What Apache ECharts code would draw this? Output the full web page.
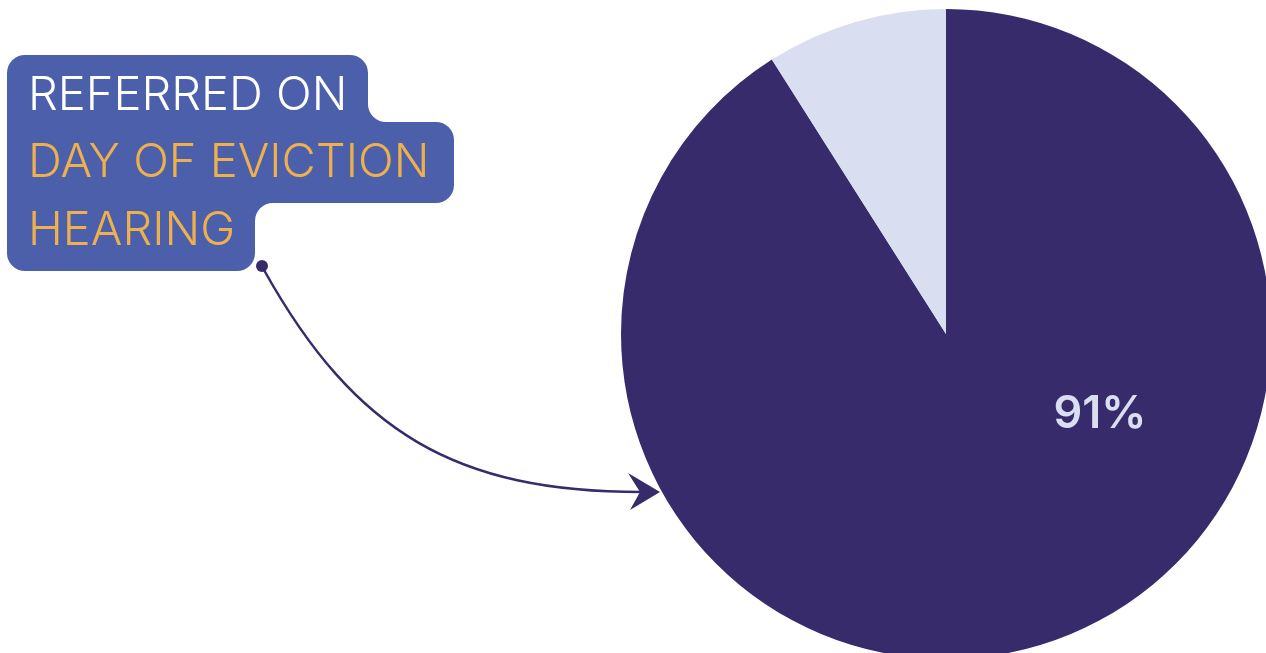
<!DOCTYPE html>
<html>
<head>
<meta charset="utf-8">
<style>
  html, body { margin: 0; padding: 0; background: #ffffff; }
  #chart { width: 1266px; height: 653px; }
</style>
<script src="https://cdn.jsdelivr.net/npm/echarts@6/dist/echarts.min.js"></script>
</head>
<body>
<div id="chart"></div>
<script>
// Share of referrals made on the day of the eviction hearing
const categories = ['Day of eviction hearing', 'Other days'];
const shares = [91, 9];
const sliceColors = ['#372B6C', '#D9DFF0'];
const titleLines = ['REFERRED ON', 'DAY OF EVICTION', 'HEARING'];

const BOX = '#4B5FAB';
const ORANGE = '#EDB04D';
const FONT = 'Inter, Lato, sans-serif';

const chart = echarts.init(document.getElementById('chart'), null, { renderer: 'canvas' });

// Rounded callout box assembled from overlapping rounded rects with concave fillets
const boxParts = [
  { type: 'rect', shape: { x: 7, y: 55, width: 361, height: 105, r: 18 }, style: { fill: BOX }, z: 1 },
  { type: 'rect', shape: { x: 7, y: 122, width: 447, height: 81, r: 18 }, style: { fill: BOX }, z: 1 },
  { type: 'rect', shape: { x: 7, y: 150, width: 248, height: 121, r: 18 }, style: { fill: BOX }, z: 1 },
  { type: 'rect', shape: { x: 368, y: 104, width: 18, height: 18 }, style: { fill: BOX }, z: 2 },
  { type: 'circle', shape: { cx: 386, cy: 104, r: 18 }, style: { fill: '#ffffff' }, z: 3 },
  { type: 'rect', shape: { x: 255, y: 203, width: 18, height: 18 }, style: { fill: BOX }, z: 2 },
  { type: 'circle', shape: { cx: 273, cy: 221, r: 18 }, style: { fill: '#ffffff' }, z: 3 }
];

const lineColors = ['#ffffff', ORANGE, ORANGE];
const lineY = [96, 163, 231];
const textParts = titleLines.map((t, i) => ({
  type: 'text',
  x: 28,
  y: lineY[i],
  z: 5,
  style: {
    text: t,
    fill: lineColors[i],
    font: '350 47px ' + FONT,
    align: 'left',
    verticalAlign: 'middle'
  }
}));

// Connector arrow from the callout to the pie
const arrowParts = [
  { type: 'circle', shape: { cx: 262, cy: 266, r: 6 }, style: { fill: '#372B6C' }, z: 4 },
  {
    type: 'bezierCurve',
    shape: { x1: 264, y1: 270, cpx1: 355, cpy1: 433, cpx2: 456, cpy2: 492, x2: 642, y2: 492 },
    style: { stroke: '#372B6C', lineWidth: 2.5, fill: null },
    z: 4
  },
  {
    type: 'polygon',
    shape: { points: [[660, 492], [628, 473], [640, 492], [630, 510]] },
    style: { fill: '#372B6C' },
    z: 4
  }
];

chart.setOption({
  animation: false,
  graphic: { elements: boxParts.concat(textParts, arrowParts) },
  series: [{
    type: 'pie',
    center: [946, 334],
    radius: [0, 325],
    startAngle: 90,
    clockwise: true,
    silent: true,
    emphasis: { disabled: true },
    labelLine: { show: false },
    label: {
      show: true,
      position: 'inside',
      formatter: '{c}%',
      color: '#D9DFF0',
      fontFamily: FONT,
      fontWeight: 600,
      fontSize: 45
    },
    labelLayout: function (p) {
      if (p.dataIndex === 0) {
        return { x: 1100, y: 414, align: 'center', verticalAlign: 'middle' };
      }
      return {};
    },
    data: categories.map((c, i) => ({
      name: c,
      value: shares[i],
      itemStyle: { color: sliceColors[i] },
      label: i === 0 ? {} : { show: false }
    }))
  }]
});
</script>
</body>
</html>
